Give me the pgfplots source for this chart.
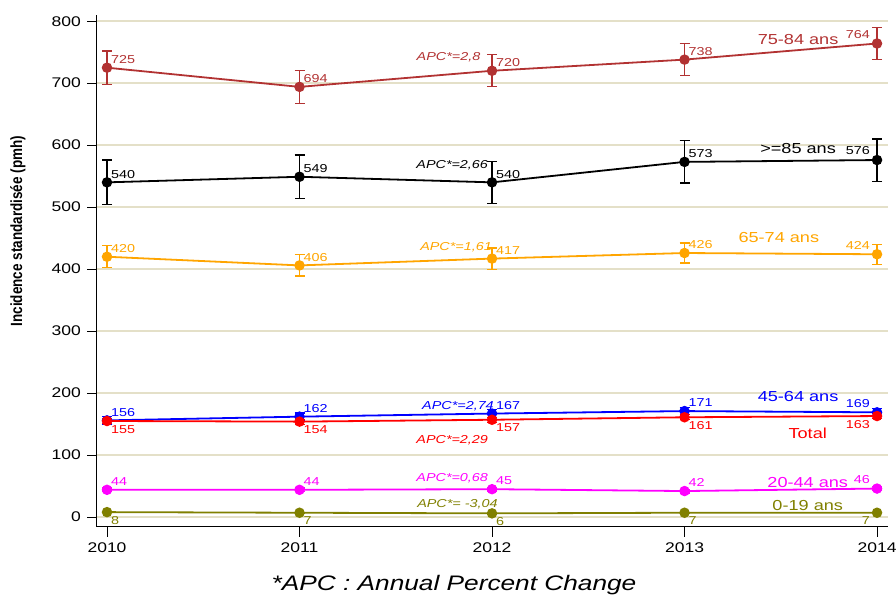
\documentclass[border=0pt]{standalone}
\usepackage{pgfplots}
\pgfplotsset{compat=1.18}
\usepackage{fontspec}
\setmainfont{Liberation Sans}[FakeStretch=1.25]
\newfontfamily\ylabfont{Liberation Sans}
\definecolor{cA}{RGB}{178,50,50}
\definecolor{cB}{RGB}{0,0,0}
\definecolor{cC}{RGB}{255,165,0}
\definecolor{cD}{RGB}{0,0,255}
\definecolor{cE}{RGB}{255,0,0}
\definecolor{cF}{RGB}{255,0,255}
\definecolor{cG}{RGB}{128,128,0}
\definecolor{gridc}{RGB}{228,224,200}
\tikzset{
  vlab/.style={font=\fontsize{11.5}{12}\selectfont, inner sep=0pt},
  ar/.style={vlab, anchor=south west, xshift=4pt, yshift=4pt},
  al/.style={vlab, anchor=south east, xshift=-7pt, yshift=5pt},
  br/.style={vlab, anchor=north west, xshift=4pt, yshift=-4pt},
  bl/.style={vlab, anchor=north east, xshift=-7pt, yshift=-4pt},
  apc/.style={font=\itshape\fontsize{11.5}{13}\selectfont, inner sep=0pt, anchor=east},
  ser/.style={font=\fontsize{14.5}{16}\selectfont, inner sep=0pt, anchor=center},
}
\begin{document}
\begin{tikzpicture}
\path[use as bounding box] (0pt,0pt) rectangle (896pt,599pt);
\begin{axis}[
  at={(97pt,72pt)}, anchor=south west,
  scale only axis, width=791pt, height=512pt,
  xmin=2009.948, xmax=2014.057, ymin=-16, ymax=810,
  axis x line*=bottom, axis y line*=left,
  axis line style={-, line width=1pt, black},
  xtick={2010,2011,2012,2013,2014},
  xticklabels={2010,2011,2012,2013,2014},
  ytick={0,100,...,800},
  tick align=outside, major tick length=10pt,
  tick style={black, line width=1pt},
  /pgf/number format/assume math mode=true,
  ticklabel style={font=\fontsize{14}{15}\selectfont},
  yticklabel style={inner sep=0pt, xshift=-6pt},
  xticklabel style={inner sep=0pt, yshift=-6pt},
  ymajorgrids, grid style={gridc, line width=1.5pt},
  ylabel={\scalebox{1}[1.2]{\ylabfont\bfseries\fontsize{13.5}{15}\selectfont Incidence standardisée (pmh)}},
  ylabel style={at={(axis description cs:-0.0999,0.578)}, anchor=center},
  clip=false,
  every axis plot/.append style={line width=1.8pt, mark=*, mark size=4.3pt,
     error bars/y dir=both, error bars/y explicit,
     error bars/error bar style={line width=1.2pt},
     error bars/error mark options={rotate=90, mark size=5pt, line width=1.2pt}},
]
% 75-84
\addplot[cA] coordinates {(2010,725) +- (0,27) (2011,694) +- (0,27) (2012,720) +- (0,26) (2013,738) +- (0,26) (2014,764) +- (0,26)};
% >=85
\addplot[cB] coordinates {(2010,540) +- (0,36) (2011,549) +- (0,35) (2012,540) +- (0,34) (2013,573) +- (0,34) (2014,576) +- (0,34)};
% 65-74
\addplot[cC] coordinates {(2010,420) +- (0,18) (2011,406) +- (0,17) (2012,417) +- (0,17) (2013,426) +- (0,16) (2014,424) +- (0,16)};
% 45-64
\addplot[cD] coordinates {(2010,156) +- (0,6) (2011,162) +- (0,6) (2012,167) +- (0,6) (2013,171) +- (0,6) (2014,169) +- (0,6)};
% Total
\addplot[cE] coordinates {(2010,155) +- (0,4) (2011,154) +- (0,4) (2012,157) +- (0,4) (2013,161) +- (0,4) (2014,163) +- (0,4)};
% 20-44
\addplot[cF] coordinates {(2010,44) +- (0,3) (2011,44) +- (0,3) (2012,45) +- (0,3) (2013,42) +- (0,3) (2014,46) +- (0,3)};
% 0-19
\addplot[cG] coordinates {(2010,8) +- (0,1) (2011,7) +- (0,1) (2012,6) +- (0,1) (2013,7) +- (0,1) (2014,7) +- (0,1)};

% value labels
\node[ar,cA] at (axis cs:2010,725) {725};
\node[ar,cA] at (axis cs:2011,694) {694};
\node[ar,cA] at (axis cs:2012,720) {720};
\node[ar,cA] at (axis cs:2013,738) {738};
\node[al,cA] at (axis cs:2014,764) {764};
\node[ar,cB] at (axis cs:2010,540) {540};
\node[ar,cB] at (axis cs:2011,549) {549};
\node[ar,cB] at (axis cs:2012,540) {540};
\node[ar,cB] at (axis cs:2013,573) {573};
\node[al,cB] at (axis cs:2014,576) {576};
\node[ar,cC] at (axis cs:2010,420) {420};
\node[ar,cC] at (axis cs:2011,406) {406};
\node[ar,cC] at (axis cs:2012,417) {417};
\node[ar,cC] at (axis cs:2013,426) {426};
\node[al,cC] at (axis cs:2014,424) {424};
\node[ar,cD] at (axis cs:2010,156) {156};
\node[ar,cD] at (axis cs:2011,162) {162};
\node[ar,cD] at (axis cs:2012,167) {167};
\node[ar,cD] at (axis cs:2013,171) {171};
\node[al,cD] at (axis cs:2014,169) {169};
\node[br,cE] at (axis cs:2010,155) {155};
\node[br,cE] at (axis cs:2011,154) {154};
\node[br,cE] at (axis cs:2012,157) {157};
\node[br,cE] at (axis cs:2013,161) {161};
\node[bl,cE] at (axis cs:2014,163) {163};
\node[ar,cF] at (axis cs:2010,44) {44};
\node[ar,cF] at (axis cs:2011,44) {44};
\node[ar,cF] at (axis cs:2012,45) {45};
\node[ar,cF] at (axis cs:2013,42) {42};
\node[al,cF] at (axis cs:2014,46) {46};
\node[br,cG] at (axis cs:2010,8) {8};
\node[br,cG] at (axis cs:2011,7) {7};
\node[br,cG] at (axis cs:2012,6) {6};
\node[br,cG] at (axis cs:2013,7) {7};
\node[bl,cG] at (axis cs:2014,7) {7};

% APC labels
\node[apc,cA] at (axis cs:2011.94,742) {APC*=2,8};
\node[apc,cB] at (axis cs:2011.98,567) {APC*=2,66};
\node[apc,cC] at (axis cs:2012.00,435) {APC*=1,61};
\node[apc,cD] at (axis cs:2012.01,179) {APC*=2,74};
\node[apc,cE] at (axis cs:2011.98,124) {APC*=2,29};
\node[apc,cF] at (axis cs:2011.98,63) {APC*=0,68};
\node[apc,cG] at (axis cs:2012.03,21) {APC*= -3,04};

% series labels
\node[ser,cA] at (axis cs:2013.59,771) {75-84 ans};
\node[ser,cB] at (axis cs:2013.59,594) {>=85 ans};
\node[ser,cC] at (axis cs:2013.49,451) {65-74 ans};
\node[ser,cD] at (axis cs:2013.59,195) {45-64 ans};
\node[ser,cE] at (axis cs:2013.64,135) {Total};
\node[ser,cF] at (axis cs:2013.64,55) {20-44 ans};
\node[ser,cG] at (axis cs:2013.64,19) {0-19 ans};
\end{axis}
\node[font=\itshape\fontsize{21}{24}\selectfont, anchor=center] at (454pt,14pt) {*APC : Annual Percent Change};
\end{tikzpicture}
\end{document}
